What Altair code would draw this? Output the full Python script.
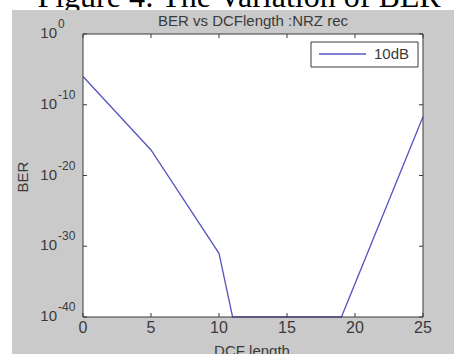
import altair as alt
import pandas as pd

# ---- data ----
dcf_length = [0, 5, 10, 11, 19, 25]
ber = [1e-6, 4e-17, 1e-31, 1e-40, 1e-40, 2e-12]
series_name = ["10dB"] * len(dcf_length)
x_ticks = [0, 5, 10, 15, 20, 25]
y_ticks = [1, 1e-10, 1e-20, 1e-30, 1e-40]
y_exponents = ["0", "-10", "-20", "-30", "-40"]
legend_labels = ["10dB"]
chart_title = ["BER vs DCFlength :NRZ rec"]
x_title = ["DCF length"]
y_title = ["BER"]
caption = ["Figure 4: The Variation of BER"]

W, H = 340, 283
FONT = "Liberation Sans"
LINE = "#5656c2"
AX = "#3a3a3a"
GRAY = "#cacaca"

df = pd.DataFrame({"x": dcf_length, "ber": ber, "s": series_name})
xt = pd.DataFrame({"x": x_ticks})
yt = pd.DataFrame({"y": y_ticks, "e": y_exponents})
one = pd.DataFrame({"a": [0]})
leg = pd.DataFrame({"label": legend_labels})
ttl = pd.DataFrame({"t": chart_title})
xtl = pd.DataFrame({"t": x_title})
ytl = pd.DataFrame({"t": y_title})
cap = pd.DataFrame({"t": caption})

xs = alt.Scale(domain=[0, 25], nice=False, zero=False)
ys = alt.Scale(type="log", domain=[1e-40, 1], nice=False)

# white page strips around the grey MATLAB figure
white_top = alt.Chart(one).mark_rect(color="white").encode(
    x=alt.value(-83), x2=alt.value(371), y=alt.value(-34), y2=alt.value(-24))
white_left = alt.Chart(one).mark_rect(color="white").encode(
    x=alt.value(-83), x2=alt.value(-71), y=alt.value(-34), y2=alt.value(320))

caption_layer = alt.Chart(cap).mark_text(
    font="Liberation Serif", fontSize=32, align="center",
    baseline="alphabetic", color="black"
).encode(text="t:N", x=alt.value(156), y=alt.value(-27))

gray_cover = alt.Chart(one).mark_rect(color=GRAY).encode(
    x=alt.value(-71), x2=alt.value(371), y=alt.value(-24), y2=alt.value(0))

line = alt.Chart(df).mark_line(color=LINE, strokeWidth=1.3, clip=False).encode(
    x=alt.X("x:Q", scale=xs, axis=None),
    y=alt.Y("ber:Q", scale=ys, axis=None),
    detail="s:N",
)

border = alt.Chart(one).mark_rect(filled=False, stroke=AX, strokeWidth=1).encode(
    x=alt.value(0), x2=alt.value(W), y=alt.value(0), y2=alt.value(H))

tick_b = alt.Chart(xt).mark_rule(color=AX).encode(
    x=alt.X("x:Q", scale=xs, axis=None), y=alt.value(H), y2=alt.value(H - 4))
tick_t = alt.Chart(xt).mark_rule(color=AX).encode(
    x=alt.X("x:Q", scale=xs, axis=None), y=alt.value(0), y2=alt.value(4))
tick_l = alt.Chart(yt).mark_rule(color=AX).encode(
    y=alt.Y("y:Q", scale=ys, axis=None), x=alt.value(0), x2=alt.value(4))
tick_r = alt.Chart(yt).mark_rule(color=AX).encode(
    y=alt.Y("y:Q", scale=ys, axis=None), x=alt.value(W), x2=alt.value(W - 4))

xlab = alt.Chart(xt).mark_text(
    font=FONT, fontSize=16, align="center", baseline="middle", color=AX
).encode(x=alt.X("x:Q", scale=xs, axis=None), y=alt.value(294),
         text=alt.Text("x:Q", format="d"))

ylab_base = alt.Chart(yt).mark_text(
    text="10", font=FONT, fontSize=15, align="right", baseline="middle",
    color=AX, dy=-1
).encode(y=alt.Y("y:Q", scale=ys, axis=None), x=alt.value(-26))
ylab_exp = alt.Chart(yt).mark_text(
    font=FONT, fontSize=12, align="left", baseline="middle", color=AX, dy=-10
).encode(y=alt.Y("y:Q", scale=ys, axis=None), x=alt.value(-25), text="e:N")

xtitle = alt.Chart(xtl).mark_text(
    font=FONT, fontSize=15, align="center", baseline="middle", color=AX
).encode(text="t:N", x=alt.value(169), y=alt.value(317))
ytitle = alt.Chart(ytl).mark_text(
    font=FONT, fontSize=15, align="center", baseline="middle", color=AX, angle=270
).encode(text="t:N", x=alt.value(-60), y=alt.value(143))

leg_box = alt.Chart(one).mark_rect(fill="white", stroke=AX, strokeWidth=1).encode(
    x=alt.value(228), x2=alt.value(335), y=alt.value(8), y2=alt.value(33))
leg_line = alt.Chart(one).mark_rule(color=LINE, strokeWidth=1.3).encode(
    x=alt.value(236), x2=alt.value(283), y=alt.value(20))
leg_text = alt.Chart(leg).mark_text(
    font=FONT, fontSize=15, align="left", baseline="middle", color=AX
).encode(text="label:N", x=alt.value(291), y=alt.value(20))

title_layer = alt.Chart(ttl).mark_text(
    font=FONT, fontSize=15, align="center", baseline="middle", color=AX
).encode(text="t:N", x=alt.value(170), y=alt.value(-13))

chart = alt.layer(
    white_top, white_left, caption_layer, gray_cover, line, border,
    tick_b, tick_t, tick_l, tick_r, xlab, ylab_base, ylab_exp, xtitle, ytitle,
    leg_box, leg_line, leg_text, title_layer,
).properties(
    width=W, height=H,
    padding={"left": 83, "top": 34, "right": 31, "bottom": 37},
    autosize=alt.AutoSizeParams(type="none"),
).configure(background=GRAY).configure_view(stroke=None, fill="white")

chart.save("out.html", embed_options={"renderer": "svg", "actions": False})
